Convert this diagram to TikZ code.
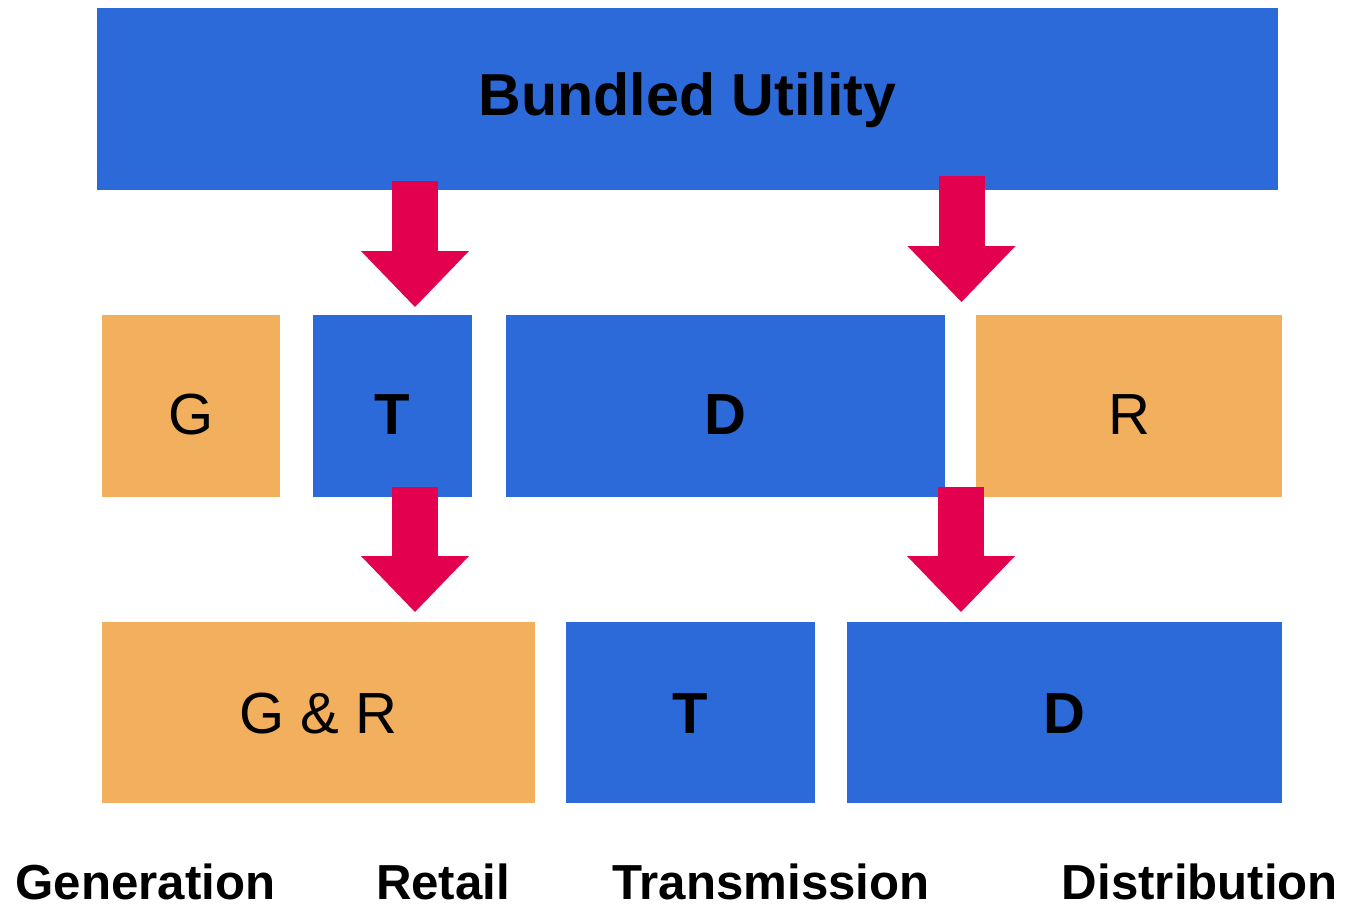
\documentclass[tikz,border=0pt]{standalone}
\usepackage{fontspec}
\setmainfont{Liberation Sans}
\usetikzlibrary{arrows.meta}

\definecolor{utilblue}{RGB}{45,106,217}
\definecolor{utilorange}{RGB}{242,176,94}
\definecolor{utilred}{RGB}{227,0,79}

\begin{document}
\begin{tikzpicture}[x=0.5pt,y=-0.5pt,
    bluebox/.style={fill=utilblue,font=\fontsize{29}{34}\selectfont\bfseries},
    orangebox/.style={fill=utilorange,font=\fontsize{29}{34}\selectfont},
    midrow/.style={text height=59.5pt,text depth=31.5pt},
    lowrow/.style={text height=55.5pt,text depth=35pt},
    bigarrow/.style={draw=utilred,line width=23pt,-{Triangle[width=54pt,length=28pt,line width=0pt]}},
    caption/.style={anchor=base,inner sep=0pt,font=\fontsize{24.6}{29}\selectfont\bfseries}]

      \useasboundingbox (0,0) rectangle (1345,910);

      \begin{scope}[every node/.style={inner sep=0pt}]
        \node[bluebox,minimum width=590.5pt,text height=53.5pt,text depth=37.5pt,font=\fontsize{29.6}{34}\selectfont\bfseries] (bu) at (687.5,99) {Bundled Utility};

        \node[orangebox,midrow,minimum width=89pt]    (g1) at (191,406)    {G};
        \node[bluebox,midrow,minimum width=79.5pt]    (t1) at (392.5,406)  {T};
        \node[bluebox,midrow,minimum width=219.5pt]   (d1) at (725.5,406)  {D};
        \node[orangebox,midrow,minimum width=153pt]   (r1) at (1129,406)   {R};

        \node[orangebox,lowrow,minimum width=216.5pt] (gr) at (318.5,712.5)  {G \& R};
        \node[bluebox,lowrow,minimum width=124.5pt]   (t2) at (690.5,712.5)  {T};
        \node[bluebox,lowrow,minimum width=217.5pt]   (d2) at (1064.5,712.5) {D};
      \end{scope}

      % arrow ends
      \coordinate (a1) at (415,181);
      \coordinate (b1) at (415,307);
      \coordinate (a2) at (961.5,176);
      \coordinate (b2) at (961.5,302);
      \coordinate (a3) at (415,487);
      \coordinate (b3) at (415,612);
      \coordinate (a4) at (961,487);
      \coordinate (b4) at (961,612);

      \draw[bigarrow] (a1) -- (b1);
      \draw[bigarrow] (a2) -- (b2);
      \draw[bigarrow] (a3) -- (b3);
      \draw[bigarrow] (a4) -- (b4);

      \node[caption] (gen)  at (145.5,899) {Generation};
      \node[caption] (ret)  at (443,899)   {Retail};
      \node[caption] (tra)  at (771,899)   {Transmission};
      \node[caption] (dis)  at (1200,899)  {Distribution};

    \end{tikzpicture}
\end{document}
